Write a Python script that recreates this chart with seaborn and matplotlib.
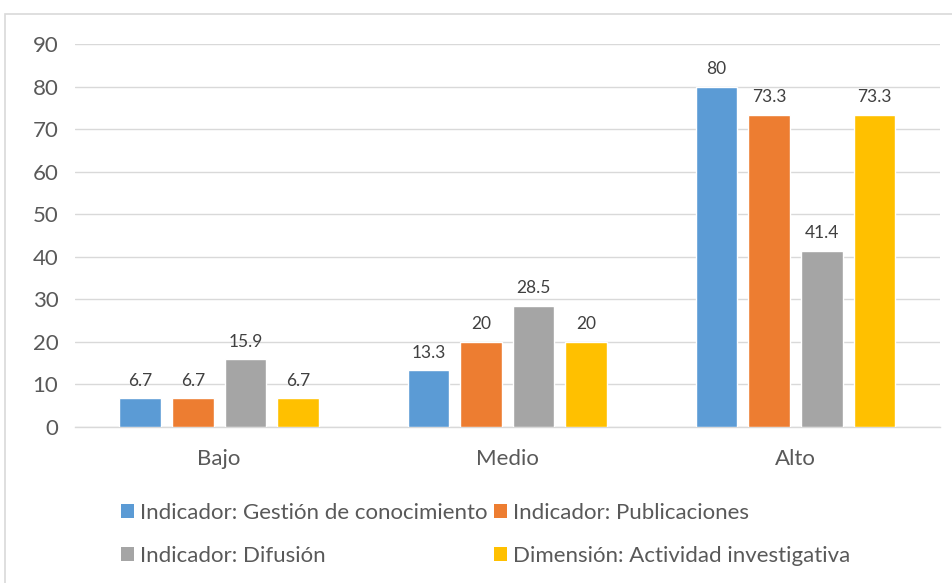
import matplotlib
matplotlib.use("Agg")
import matplotlib.pyplot as plt
import seaborn as sns
import pandas as pd
from matplotlib.patches import Rectangle

niveles = ["Bajo", "Medio", "Alto"]
series = [
    "Indicador: Gestión de conocimiento",
    "Indicador: Publicaciones",
    "Indicador: Difusión",
    "Dimensión: Actividad investigativa",
]
gestion = [6.7, 13.3, 80]
publicaciones = [6.7, 20, 73.3]
difusion = [15.9, 28.5, 41.4]
actividad = [6.7, 20, 73.3]
colores = ["#5B9BD5", "#ED7D31", "#A5A5A5", "#FFC000"]
y_ticks = [0, 10, 20, 30, 40, 50, 60, 70, 80, 90]

rows = []
for s, vals in zip(series, [gestion, publicaciones, difusion, actividad]):
    for n, v in zip(niveles, vals):
        rows.append({"Nivel": n, "Serie": s, "Valor": v})
df = pd.DataFrame(rows)

sns.set_theme(style="white")
plt.rcParams["font.family"] = ["Lato", "DejaVu Sans"]

fig = plt.figure(figsize=(9.53, 5.83), dpi=100)
ax = fig.add_axes([0.0787, 0.2676, 0.9073, 0.6569])

sns.barplot(data=df, x="Nivel", y="Valor", hue="Serie", order=niveles,
            hue_order=series, palette=colores, width=0.73, gap=0.21,
            ax=ax, legend=False, zorder=3, saturation=1)

for cont in ax.containers:
    ax.bar_label(cont, labels=[f"{v:g}" for v in cont.datavalues],
                 padding=7, fontsize=12.5, color="#404040")

ax.set_xlim(-0.5, 2.5)
ax.set_ylim(0, 90)
ax.set_yticks(y_ticks)
ax.yaxis.grid(True, color="#D9D9D9", linewidth=1, zorder=0)
ax.set_axisbelow(True)
for side in ["top", "right", "left"]:
    ax.spines[side].set_visible(False)
ax.spines["bottom"].set_color("#D9D9D9")
ax.spines["bottom"].set_linewidth(1)
ax.tick_params(axis="both", length=0, labelsize=16, labelcolor="#595959")
ax.tick_params(axis="x", pad=16)
ax.tick_params(axis="y", pad=12)
ax.set_xlabel("")
ax.set_ylabel("")

# legend laid out row by row: matplotlib fills columns first
orden = [0, 2, 1, 3]
handles = [Rectangle((0, 0), 1, 1, facecolor=colores[i], edgecolor="none") for i in orden]
etiquetas = [series[i] for i in orden]
fig.legend(handles, etiquetas, loc="upper left", bbox_to_anchor=(0.118, 0.153),
           ncol=2, frameon=False, fontsize=16, labelcolor="#595959",
           handlelength=0.55, handleheight=0.55, handletextpad=0.3,
           columnspacing=0.3, labelspacing=1.05, borderaxespad=0)

fig.patches.append(Rectangle((0.005, -0.1), 1.2, 1.076, transform=fig.transFigure,
                             fill=False, edgecolor="#D9D9D9", linewidth=1.2))

fig.savefig("out.png", dpi=100)
